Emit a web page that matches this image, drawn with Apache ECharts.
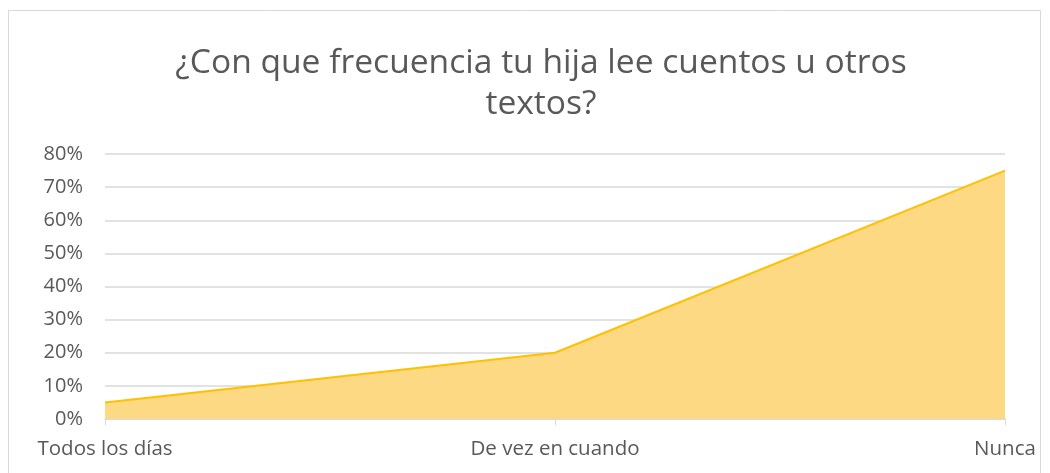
<!DOCTYPE html>
<html>
<head>
<meta charset="utf-8">
<script src="https://cdn.jsdelivr.net/npm/echarts@6/dist/echarts.min.js"></script>
<style>
  html, body { margin: 0; padding: 0; background: #fff; }
  #chart { width: 1050px; height: 473px; }
</style>
</head>
<body>
<div id="chart"></div>
<script>
const titleText = '¿Con que frecuencia tu hija lee cuentos u otros\ntextos?'
const categories = ['Todos los días', 'De vez en cuando', 'Nunca']
const values = [0.05, 0.20, 0.75]
const yMax = 0.8
const yStep = 0.1

const chart = echarts.init(document.getElementById('chart'))

chart.setOption({
    animation: false,
    textStyle: { fontFamily: 'Open Sans' },
    graphic: [{
        type: 'rect',
        shape: { x: 8.5, y: 10.5, width: 1032, height: 470 },
        style: { fill: 'none', stroke: '#d9d9d9', lineWidth: 1 },
        silent: true
    }],
    title: {
        text: titleText,
        left: 536,
        top: 38,
        textAlign: 'center',
        textStyle: {
            fontSize: 33.6,
            fontWeight: 'normal',
            color: '#595959',
            lineHeight: 41,
            fontFamily: 'Open Sans'
        }
    },
    grid: { left: 105, right: 45, top: 154, bottom: 54, containLabel: false },
    xAxis: {
        type: 'category',
        data: categories,
        boundaryGap: false,
        axisLine: { lineStyle: { color: '#d9d9d9', width: 1.5 } },
        axisTick: { show: true, length: 6, lineStyle: { color: '#d9d9d9' } },
        axisLabel: { color: '#595959', fontSize: 20.5, margin: 20, interval: 0 }
    },
    yAxis: {
        type: 'value',
        min: 0,
        max: yMax,
        interval: yStep,
        axisLine: { show: false },
        axisTick: { show: false },
        splitLine: { lineStyle: { color: '#d9d9d9', width: 1.5 } },
        axisLabel: {
            color: '#595959',
            fontSize: 20,
            margin: 22,
            formatter: v => Math.round(v * 100) + '%'
        }
    },
    series: [{
        type: 'line',
        data: values,
        symbol: 'none',
        lineStyle: { color: '#ffc000', width: 2 },
        areaStyle: { color: '#fdd984', opacity: 1 }
    }]
})
</script>
</body>
</html>
